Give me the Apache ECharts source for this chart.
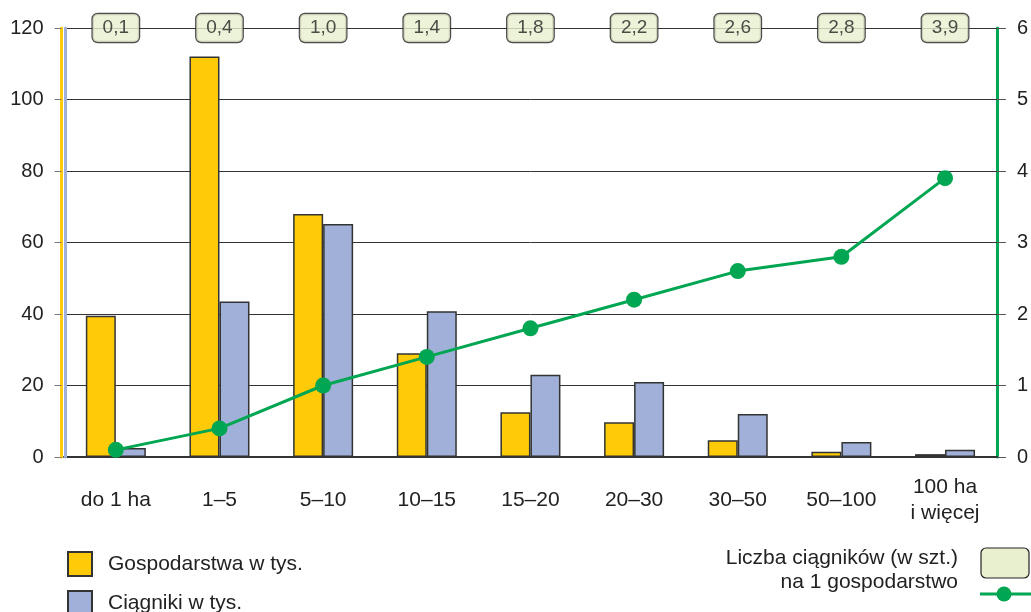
<!DOCTYPE html>
<html>
<head>
<meta charset="utf-8">
<script src="https://cdn.jsdelivr.net/npm/echarts@6/dist/echarts.min.js"></script>
<style>
html,body{margin:0;padding:0;background:#fff;}
#c{width:1031px;height:612px;}
</style>
</head>
<body>
<div id="c"></div>
<script>
const categories = ['do 1 ha', '1–5', '5–10', '10–15', '15–20', '20–30', '30–50', '50–100', '100 ha\ni więcej'];
const farms = [39.5, 112, 68, 29, 12.5, 9.7, 4.7, 1.5, 0.8];
const tractors = [2.5, 43.5, 65.2, 40.8, 23, 21, 12, 4.2, 2];
const tractorsPerFarm = [0.1, 0.4, 1.0, 1.4, 1.8, 2.2, 2.6, 2.8, 3.9];
const leftTicks = [0, 20, 40, 60, 80, 100, 120];
const rightTicks = [0, 1, 2, 3, 4, 5, 6];
const farmsName = 'Gospodarstwa w tys.';
const tractorsName = 'Ciągniki w tys.';
const lineLegendText = 'Liczba ciągników (w szt.)\nna 1 gospodarstwo';

const FONT = '"Liberation Sans", Arial, sans-serif';
const YELLOW = '#ffcb08';
const BLUE = '#a0b0d8';
const GREEN = '#00a651';
const BOX = '#e9f0cf';
const DARK = '#333333';

function legendAt(top, name) {
  return {
    orient: 'vertical', left: 62, top: top, data: [name],
    itemWidth: 24, itemHeight: 24, icon: 'rect',
    textStyle: {fontSize: 21, color: '#222', fontFamily: FONT, padding: [0, 0, 0, 11]}
  };
}

const chart = echarts.init(document.getElementById('c'), null, {renderer: 'canvas'});
chart.setOption({
  animation: false,
  textStyle: {fontFamily: FONT},
  grid: {left: 64, right: 32, top: 28, bottom: 155},
  legend: [
    legendAt(546, farmsName),
    legendAt(585, tractorsName)
  ],
  xAxis: {
    type: 'category', data: categories,
    axisLine: {lineStyle: {color: DARK, width: 2}},
    axisTick: {show: false},
    axisLabel: {fontSize: 21, color: '#222', margin: 43, verticalAlign: 'middle', lineHeight: 26, interval: 0}
  },
  yAxis: [
    {
      type: 'value', position: 'left', offset: 2.5, z: 2,
      min: leftTicks[0], max: leftTicks[leftTicks.length - 1], interval: leftTicks[1] - leftTicks[0],
      axisLine: {show: true, lineStyle: {color: YELLOW, width: 3}},
      axisTick: {show: true, length: 7, lineStyle: {color: '#777'}},
      axisLabel: {fontSize: 20, color: '#222', margin: 18},
      splitLine: {show: true, lineStyle: {color: DARK, width: 1}}
    },
    {
      type: 'value', position: 'right',
      min: rightTicks[0], max: rightTicks[rightTicks.length - 1], interval: rightTicks[1] - rightTicks[0],
      axisLine: {show: true, lineStyle: {color: GREEN, width: 3}},
      axisTick: {show: true, length: 9, lineStyle: {color: '#555'}},
      axisLabel: {fontSize: 20, color: '#222', margin: 20},
      splitLine: {show: false}
    },
    {
      type: 'value', position: 'left', offset: -1, show: true, z: 3,
      min: leftTicks[0], max: leftTicks[leftTicks.length - 1],
      axisLine: {show: true, lineStyle: {color: BLUE, width: 3}},
      axisTick: {show: false}, axisLabel: {show: false}, splitLine: {show: false}
    }
  ],
  series: [
    {
      name: farmsName, type: 'bar', data: farms, yAxisIndex: 0,
      barWidth: 30, barGap: '0%',
      itemStyle: {color: YELLOW, borderColor: DARK, borderWidth: 1.5}
    },
    {
      name: tractorsName, type: 'bar', data: tractors, yAxisIndex: 0,
      barWidth: 30, barGap: '0%',
      itemStyle: {color: BLUE, borderColor: DARK, borderWidth: 1.5}
    },
    {
      name: 'line', type: 'line', data: tractorsPerFarm, yAxisIndex: 1,
      symbol: 'circle', symbolSize: 16, z: 5,
      lineStyle: {color: GREEN, width: 3},
      itemStyle: {color: GREEN}
    },
    {
      name: 'boxes', type: 'scatter', yAxisIndex: 0, z: 6,
      symbolSize: 0, silent: true,
      data: tractorsPerFarm.map(() => leftTicks[leftTicks.length - 1]),
      label: {
        show: true, position: 'inside',
        formatter: p => tractorsPerFarm[p.dataIndex].toFixed(1).replace('.', ','),
        fontSize: 19, color: '#222', fontFamily: FONT,
        backgroundColor: BOX, borderColor: '#222', borderWidth: 1.2, borderRadius: 5,
        padding: [4, 10, 3, 10], lineHeight: 21
      }
    }
  ],
  graphic: [
    {type: 'text', right: 73, top: 546,
     style: {text: lineLegendText, font: '21px ' + FONT, fill: '#222', textAlign: 'right', lineHeight: 24}},
    {type: 'rect', shape: {x: 981, y: 548, width: 48, height: 30, r: 5},
     style: {fill: BOX, stroke: '#222', lineWidth: 1.2}},
    {type: 'line', shape: {x1: 980, y1: 594, x2: 1040, y2: 594},
     style: {stroke: GREEN, lineWidth: 3}},
    {type: 'circle', shape: {cx: 1004, cy: 594, r: 7.5}, style: {fill: GREEN}}
  ]
});
</script>
</body>
</html>
